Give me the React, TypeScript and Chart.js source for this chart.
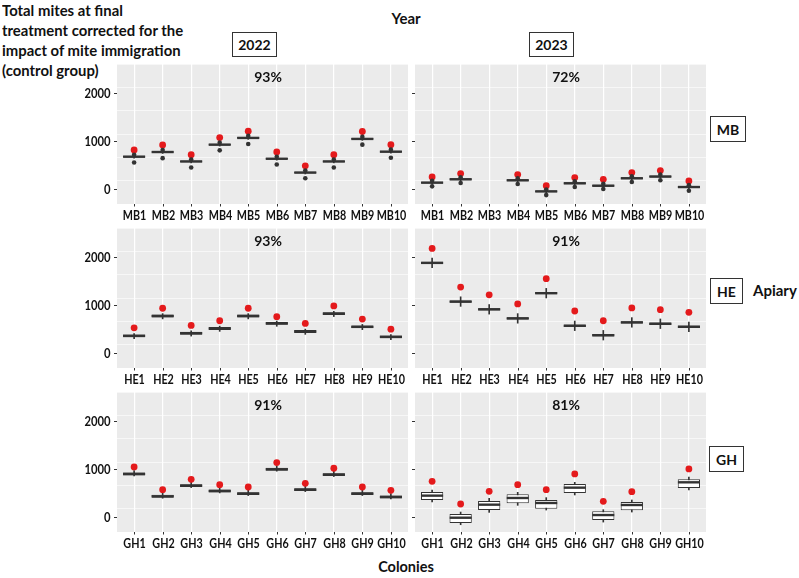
import { useEffect, useRef } from "react";
import { Chart, registerables } from "chart.js";

Chart.register(...registerables);

// ---- data -------------------------------------------------------------
const years = ["2022", "2023"];
const apiaries = ["MB", "HE", "GH"];
const colonyNumbers = [1, 2, 3, 4, 5, 6, 7, 8, 9, 10];
const efficacy2022 = ["93%", "93%", "91%"];
const efficacy2023 = ["72%", "91%", "81%"];
const yTickValues = [0, 1000, 2000];

// MB 2022
const mb2022Median = [670, 768, 570, 922, 1063, 627, 338, 570, 1042, 775];
const mb2022Q1 = [652, 750, 552, 904, 1045, 609, 320, 552, 1024, 757];
const mb2022Q3 = [688, 786, 588, 940, 1081, 645, 356, 588, 1060, 793];
const mb2022Low = [640, 738, 540, 892, 1033, 597, 308, 540, 1012, 745];
const mb2022High = [705, 803, 605, 957, 1098, 662, 373, 605, 1077, 810];
const mb2022Uncorrected = [810, 915, 711, 1070, 1204, 768, 479, 711, 1197, 922];
const mb2022PointLow = [550, 640, 444, 803, 937, 507, 218, 444, 922, 648];
const mb2022PointHigh = [712, 810, 612, 964, 1105, 669, 380, 612, 1084, 817];

// MB 2023
const mb2023Median = [127, 197, null, 176, -56, 113, 63, 218, 254, 35];
const mb2023Q1 = [107, 177, null, 156, -76, 93, 43, 198, 234, 15];
const mb2023Q3 = [147, 217, null, 196, -36, 133, 83, 238, 274, 55];
const mb2023Low = [95, 165, null, 144, -88, 81, 31, 186, 222, 3];
const mb2023High = [160, 230, null, 209, -23, 146, 96, 251, 287, 68];
const mb2023Uncorrected = [246, 317, null, 296, 63, 232, 197, 338, 380, 162];
const mb2023PointLow = [49, 120, null, 99, -134, 35, -7, 141, 176, -42];
const mb2023PointHigh = [167, 237, null, 216, -16, 153, 103, 258, 294, 75];

// HE 2022
const he2022Median = [352, 768, 408, 507, 768, 613, 444, 817, 542, 331];
const he2022Q1 = [322, 738, 378, 477, 738, 583, 414, 787, 512, 301];
const he2022Q3 = [382, 798, 438, 537, 798, 643, 474, 847, 572, 361];
const he2022Low = [292, 708, 348, 447, 708, 553, 384, 757, 482, 271];
const he2022High = [402, 818, 458, 557, 818, 663, 494, 867, 592, 381];
const he2022Uncorrected = [521, 930, 570, 669, 930, 754, 613, 979, 704, 493];

// HE 2023
const he2023Median = [1880, 1070, 908, 718, 1246, 563, 366, 634, 606, 542];
const he2023Q1 = [1855, 1045, 883, 693, 1221, 538, 341, 609, 581, 517];
const he2023Q3 = [1905, 1095, 933, 743, 1271, 588, 391, 659, 631, 567];
const he2023Low = [1780, 970, 808, 618, 1146, 463, 266, 534, 506, 442];
const he2023High = [1980, 1170, 1008, 818, 1346, 663, 466, 734, 706, 642];
const he2023Uncorrected = [2183, 1373, 1211, 1021, 1549, 873, 669, 937, 901, 845];

// GH 2022
const gh2022Median = [895, 427, 650, 538, 483, 993, 566, 881, 483, 413];
const gh2022Q1 = [865, 397, 620, 508, 453, 963, 536, 851, 453, 383];
const gh2022Q3 = [925, 457, 680, 568, 513, 1023, 596, 911, 513, 443];
const gh2022Low = [855, 387, 610, 498, 443, 953, 526, 841, 443, 373];
const gh2022High = [965, 497, 720, 608, 553, 1063, 636, 951, 553, 483];
const gh2022Uncorrected = [1042, 566, 783, 671, 622, 1133, 699, 1014, 622, 552];

// GH 2023
const gh2023Median = [441, -21, 252, 392, 287, 608, 35, 245, null, 720];
const gh2023Q1 = [350, -133, 140, 280, 168, 497, -70, 133, null, 601];
const gh2023Q3 = [517, 56, 329, 469, 350, 685, 112, 308, null, 783];
const gh2023Low = [308, -168, 91, 238, 140, 455, -112, 98, null, 559];
const gh2023High = [559, 98, 385, 510, 399, 720, 147, 350, null, 832];
const gh2023Uncorrected = [741, 266, 531, 671, 566, 895, 322, 524, null, 1000];

type Series = (number | null)[];
type PanelData = {
  apiary: string;
  year: string;
  efficacy: string;
  median: Series;
  q1: Series;
  q3: Series;
  low: Series;
  high: Series;
  uncorrected: Series;
  pointLow?: Series;
  pointHigh?: Series;
};

const panels: PanelData[][] = [
  [
    { apiary: apiaries[0], year: years[0], efficacy: efficacy2022[0], median: mb2022Median, q1: mb2022Q1, q3: mb2022Q3, low: mb2022Low, high: mb2022High, uncorrected: mb2022Uncorrected, pointLow: mb2022PointLow, pointHigh: mb2022PointHigh },
    { apiary: apiaries[0], year: years[1], efficacy: efficacy2023[0], median: mb2023Median, q1: mb2023Q1, q3: mb2023Q3, low: mb2023Low, high: mb2023High, uncorrected: mb2023Uncorrected, pointLow: mb2023PointLow, pointHigh: mb2023PointHigh },
  ],
  [
    { apiary: apiaries[1], year: years[0], efficacy: efficacy2022[1], median: he2022Median, q1: he2022Q1, q3: he2022Q3, low: he2022Low, high: he2022High, uncorrected: he2022Uncorrected },
    { apiary: apiaries[1], year: years[1], efficacy: efficacy2023[1], median: he2023Median, q1: he2023Q1, q3: he2023Q3, low: he2023Low, high: he2023High, uncorrected: he2023Uncorrected },
  ],
  [
    { apiary: apiaries[2], year: years[0], efficacy: efficacy2022[2], median: gh2022Median, q1: gh2022Q1, q3: gh2022Q3, low: gh2022Low, high: gh2022High, uncorrected: gh2022Uncorrected },
    { apiary: apiaries[2], year: years[1], efficacy: efficacy2023[2], median: gh2023Median, q1: gh2023Q1, q3: gh2023Q3, low: gh2023Low, high: gh2023High, uncorrected: gh2023Uncorrected },
  ],
];

// ---- layout -----------------------------------------------------------
const FONT = "Lato, 'Open Sans', sans-serif";
const COL_LEFT = [117, 415];
const ROW_TOP = [64, 228, 392];
const PANEL_W = 291;
const PANEL_H = 140;
const X_AXIS_H = 24;
const Y_MIN = -320;
const Y_MAX = 2610;
const INK = "#333333";
const RED = "#E41A1C";
const TEXT = "#111111";
const TICK_FONT_PX = 12.5;

const panelBackground = {
  id: "panelBackground",
  beforeDraw(chart: any) {
    const { ctx, chartArea } = chart;
    ctx.save();
    ctx.fillStyle = "#EBEBEB";
    ctx.fillRect(chartArea.left, chartArea.top, chartArea.width, chartArea.height);
    ctx.restore();
  },
};

function narrowText(ctx: CanvasRenderingContext2D, text: string, x: number, y: number, sx: number, align: CanvasTextAlign) {
  ctx.save();
  ctx.translate(x, y);
  ctx.scale(sx, 1);
  ctx.textAlign = align;
  ctx.fillText(text, 0, 0);
  ctx.restore();
}

// tick marks and tick labels, placed through the panel's own x and y scales
const axisDecor = {
  id: "axisDecor",
  afterDraw(chart: any, _args: any, opts: any) {
    const { ctx, chartArea } = chart;
    const xs = chart.scales.x;
    const ys = chart.scales.y;
    ctx.save();
    ctx.strokeStyle = INK;
    ctx.lineWidth = 1;
    ctx.fillStyle = TEXT;
    ctx.font = `bold ${TICK_FONT_PX}px ${FONT}`;
    ctx.textBaseline = "middle";
    for (const v of yTickValues) {
      const py = Math.round(ys.getPixelForValue(v)) + 0.5;
      ctx.beginPath();
      ctx.moveTo(chartArea.left - 3, py);
      ctx.lineTo(chartArea.left, py);
      ctx.stroke();
      if (opts && opts.yLabels) narrowText(ctx, String(v), chartArea.left - 6.5, py + 0.5, 0.9, "right");
    }
    for (const n of colonyNumbers) {
      const px = Math.round(xs.getPixelForValue(n)) + 0.5;
      ctx.beginPath();
      ctx.moveTo(px, chartArea.bottom);
      ctx.lineTo(px, chartArea.bottom + 2.5);
      ctx.stroke();
      narrowText(ctx, `${opts.prefix}${n}`, px, chartArea.bottom + 11.5, 0.86, "center");
    }
    ctx.restore();
  },
};

function toPoints(values: Series) {
  const out: { x: number; y: number }[] = [];
  values.forEach((v, i) => {
    if (v != null) out.push({ x: colonyNumbers[i], y: v });
  });
  return out;
}

function toRanges(lo: Series, hi: Series) {
  const out: { x: number; y: [number, number] }[] = [];
  lo.forEach((v, i) => {
    const h = hi[i];
    if (v != null && h != null) out.push({ x: colonyNumbers[i], y: [v, h] });
  });
  return out;
}

function FacetPanel({ data, left, top, showYLabels }: { data: PanelData; left: number; top: number; showYLabels: boolean }) {
  const ref = useRef<HTMLCanvasElement>(null);
  const axisW = showYLabels ? 40 : 6;

  useEffect(() => {
    if (!ref.current) return;
    const datasets: any[] = [
      {
        type: "bar",
        data: toRanges(data.low, data.high),
        backgroundColor: INK,
        barThickness: 1,
        grouped: false,
        order: 6,
      },
      {
        type: "bar",
        data: toRanges(data.q1, data.q3),
        backgroundColor: "#FFFFFF",
        borderColor: INK,
        borderWidth: 1,
        borderSkipped: false,
        barPercentage: 0.78,
        categoryPercentage: 1,
        grouped: false,
        order: 5,
      },
      {
        type: "scatter",
        data: toPoints(data.median),
        pointStyle: "line",
        pointRadius: 11,
        borderColor: INK,
        pointBorderWidth: 2.4,
        order: 4,
      },
      {
        type: "scatter",
        data: toPoints(data.uncorrected),
        pointRadius: 3.4,
        backgroundColor: RED,
        borderWidth: 0,
        order: 2,
      },
    ];
    if (data.pointLow && data.pointHigh) {
      datasets.push({
        type: "scatter",
        data: [...toPoints(data.pointLow), ...toPoints(data.pointHigh)],
        pointRadius: 2.3,
        backgroundColor: INK,
        borderWidth: 0,
        order: 1,
      });
    }

    const chart = new Chart(ref.current, {
      type: "bar",
      data: { datasets },
      plugins: [panelBackground, axisDecor],
      options: {
        animation: false,
        responsive: false,
        devicePixelRatio: 1,
        layout: { padding: 0, autoPadding: false },
        plugins: {
          legend: { display: false },
          tooltip: { enabled: false },
          axisDecor: { yLabels: showYLabels, prefix: data.apiary },
        },
        scales: {
          x: {
            type: "linear",
            min: 0.4,
            max: 10.6,
            offset: false,
            afterFit: (scale: any) => {
              scale.height = X_AXIS_H;
            },
            border: { display: false },
            grid: {
              color: "#FFFFFF",
              lineWidth: 1.2,
              offset: false,
              drawTicks: false,
            },
            ticks: {
              stepSize: 1,
              includeBounds: false,
              display: false,
            },
          },
          y: {
            type: "linear",
            min: Y_MIN,
            max: Y_MAX,
            afterFit: (scale: any) => {
              scale.width = axisW;
            },
            border: { display: false },
            grid: {
              color: "#FFFFFF",
              lineWidth: (ctx: any) => (ctx.tick && yTickValues.includes(ctx.tick.value) ? 1.2 : 0.6),
              drawTicks: false,
            },
            ticks: {
              stepSize: 500,
              includeBounds: false,
              display: false,
            },
          },
        },
      } as any,
    });
    return () => chart.destroy();
  }, [data, axisW, showYLabels]);

  return (
    <canvas
      ref={ref}
      width={axisW + PANEL_W}
      height={PANEL_H + X_AXIS_H}
      style={{ position: "absolute", left: left - axisW, top, width: axisW + PANEL_W, height: PANEL_H + X_AXIS_H }}
    />
  );
}

const textBase: any = { position: "absolute", fontFamily: FONT, fontWeight: 700, color: TEXT, whiteSpace: "nowrap" };
const stripBox: any = {
  position: "absolute",
  boxSizing: "border-box",
  border: "1px solid #333",
  background: "#fff",
  display: "flex",
  alignItems: "center",
  justifyContent: "center",
  fontFamily: FONT,
  fontWeight: 700,
  fontSize: 14,
  color: TEXT,
};

const yearBoxes = [
  { left: 232, top: 32, width: 45, height: 25 },
  { left: 529, top: 32, width: 45, height: 25 },
];
const apiaryBoxes = [
  { left: 710, top: 116, width: 36, height: 26 },
  { left: 710, top: 278, width: 33, height: 26 },
  { left: 709, top: 446, width: 35, height: 26 },
];
const efficacyCenterX = [268, 566];

export default function App() {
  return (
    <div style={{ position: "absolute", left: 0, top: 0, width: 799, height: 578, background: "#fff", overflow: "hidden" }}>
      <div style={{ ...textBase, left: 2, top: 0, fontSize: 16, lineHeight: "20px", transform: "scaleX(0.93)", transformOrigin: "0 0" }}>
        Total mites at final
        <br />
        treatment corrected for the
        <br />
        impact of mite immigration
        <br />
        (control group)
      </div>
      <div style={{ ...textBase, left: 386, width: 40, textAlign: "center", top: 9, fontSize: 15, lineHeight: "18px" }}>Year</div>
      {years.map((y, i) => (
        <div key={y} style={{ ...stripBox, ...yearBoxes[i] }}>
          {y}
        </div>
      ))}
      {apiaries.map((a, i) => (
        <div key={a} style={{ ...stripBox, ...apiaryBoxes[i] }}>
          {a}
        </div>
      ))}
      <div style={{ ...textBase, left: 753, top: 281, fontSize: 15, lineHeight: "19px" }}>Apiary</div>
      <div style={{ ...textBase, left: 356, width: 100, textAlign: "center", top: 558, fontSize: 14.5, lineHeight: "18px" }}>Colonies</div>

      {panels.map((row, r) =>
        row.map((p, c) => (
          <FacetPanel key={`${p.apiary}-${p.year}`} data={p} left={COL_LEFT[c]} top={ROW_TOP[r]} showYLabels={c === 0} />
        ))
      )}
      {panels.map((row, r) =>
        row.map((p, c) => (
          <div
            key={`eff-${p.apiary}-${p.year}`}
            style={{ ...textBase, left: efficacyCenterX[c] - 30, width: 60, textAlign: "center", top: ROW_TOP[r] + 4, fontSize: 14, lineHeight: "17px" }}
          >
            {p.efficacy}
          </div>
        ))
      )}
    </div>
  );
}
